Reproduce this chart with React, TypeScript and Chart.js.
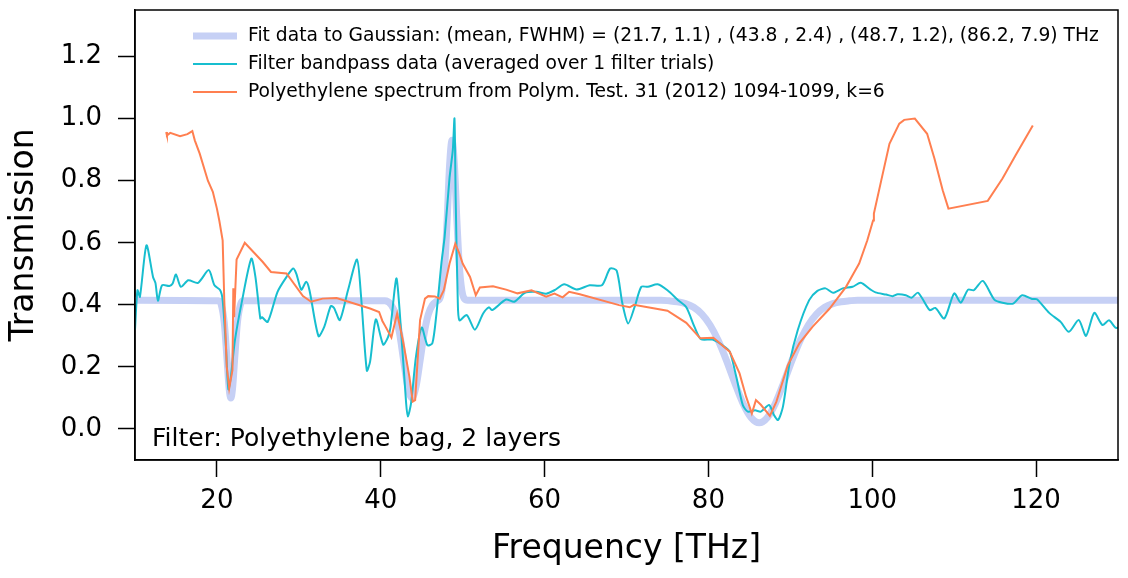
import { useEffect, useRef } from "react";
import { Chart, registerables } from "chart.js";

Chart.register(...registerables);

// fit to gaussians
const fitX = [10, 20.2, 20.5, 20.9, 21.2, 21.5, 21.7, 21.9, 22.2, 22.5, 22.9, 23.2, 40.5, 41.3, 41.8, 42.3, 42.8, 43.3, 43.8, 44.3, 44.8, 45.3, 45.8, 46.3, 46.8, 47.3, 47.8, 48.1, 48.4, 48.7, 49.0, 49.3, 49.6, 49.9, 50.2, 50.6, 74.2, 75.2, 76.2, 77.2, 78.2, 79.2, 80.2, 81.2, 82.2, 83.2, 84.2, 85.2, 86.2, 87.2, 88.2, 89.2, 90.2, 91.2, 92.2, 93.2, 94.2, 95.2, 96.2, 97.2, 98.2, 130];
const fitY = [0.415, 0.413, 0.403, 0.342, 0.238, 0.128, 0.1, 0.128, 0.238, 0.342, 0.403, 0.413, 0.413, 0.399, 0.369, 0.308, 0.22, 0.136, 0.1, 0.136, 0.22, 0.308, 0.369, 0.399, 0.411, 0.427, 0.523, 0.67, 0.848, 0.93, 0.848, 0.67, 0.523, 0.447, 0.42, 0.415, 0.415, 0.413, 0.41, 0.404, 0.392, 0.37, 0.335, 0.285, 0.221, 0.15, 0.084, 0.037, 0.02, 0.037, 0.084, 0.15, 0.221, 0.285, 0.335, 0.37, 0.392, 0.404, 0.41, 0.413, 0.415, 0.415];

// filter bandpass
const bandX = [10.0, 10.3, 10.6, 11.4, 12.2, 12.5, 12.8, 13.3, 14.2, 14.6, 15.0, 15.6, 16.5, 17.7, 19.0, 19.7, 20.4, 20.7, 21.1, 21.4, 21.7, 22.2, 23.0, 24.2, 24.7, 25.3, 25.5, 26.2, 27.4, 28.5, 29.3, 29.7, 30.3, 30.9, 31.3, 32.4, 33.1, 33.9, 34.3, 35.0, 36.0, 37.1, 37.6, 38.3, 38.7, 39.4, 40.3, 40.9, 41.2, 41.9, 42.3, 43.1, 43.3, 43.7, 44.3, 45.0, 45.7, 46.3, 46.8, 47.4, 47.8, 48.4, 48.8, 49.0, 49.15, 49.4, 49.6, 50.5, 51.5, 52.5, 53.2, 53.6, 55.3, 56.3, 57.6, 59.0, 60.2, 61.2, 62.4, 63.9, 65.5, 67.0, 68.0, 68.8, 69.5, 70.2, 71.0, 71.8, 72.6, 73.8, 75.0, 76.3, 77.3, 78.3, 79.1, 80.5, 81.7, 82.6, 83.4, 84.2, 84.8, 85.7, 86.4, 87.4, 88.0, 88.5, 89.1, 89.9, 90.9, 92.3, 93.3, 94.3, 95.2, 96.4, 97.6, 98.6, 99.8, 100.4, 101.7, 102.5, 103.1, 104.1, 104.8, 105.6, 107.0, 107.7, 108.8, 110.0, 110.8, 111.7, 112.4, 113.5, 114.9, 115.9, 117.2, 118.3, 119.5, 120.1, 121.6, 123.0, 124.0, 125.2, 126.1, 127.1, 128.1, 128.9, 129.7, 130.0];
const bandY = [0.32, 0.447, 0.426, 0.592, 0.49, 0.47, 0.413, 0.463, 0.461, 0.469, 0.498, 0.458, 0.479, 0.471, 0.512, 0.463, 0.447, 0.415, 0.265, 0.128, 0.168, 0.286, 0.404, 0.549, 0.49, 0.356, 0.36, 0.345, 0.442, 0.49, 0.517, 0.5, 0.449, 0.474, 0.447, 0.299, 0.329, 0.396, 0.39, 0.351, 0.447, 0.546, 0.426, 0.188, 0.217, 0.353, 0.272, 0.297, 0.33, 0.485, 0.383, 0.083, 0.04, 0.083, 0.233, 0.327, 0.27, 0.276, 0.372, 0.533, 0.62, 0.81, 0.9, 1.0, 0.737, 0.415, 0.35, 0.367, 0.32, 0.372, 0.392, 0.383, 0.417, 0.41, 0.439, 0.442, 0.436, 0.447, 0.466, 0.449, 0.463, 0.463, 0.517, 0.51, 0.404, 0.34, 0.394, 0.458, 0.458, 0.466, 0.447, 0.415, 0.392, 0.329, 0.289, 0.288, 0.27, 0.249, 0.168, 0.077, 0.056, 0.06, 0.056, 0.077, 0.045, 0.029, 0.072, 0.211, 0.318, 0.415, 0.445, 0.453, 0.439, 0.453, 0.458, 0.471, 0.449, 0.44, 0.433, 0.428, 0.434, 0.431, 0.423, 0.439, 0.383, 0.39, 0.356, 0.437, 0.407, 0.449, 0.447, 0.477, 0.417, 0.407, 0.404, 0.431, 0.419, 0.418, 0.374, 0.345, 0.313, 0.351, 0.3, 0.374, 0.335, 0.35, 0.326, 0.326];

// polyethylene reference spectrum
const polyX = [13.8, 13.9, 14.3, 15.5, 16.4, 17.0, 17.3, 17.9, 18.9, 19.5, 20.0, 20.3, 20.7, 20.9, 21.2, 21.5, 21.9, 22.0, 22.1, 22.4, 23.4, 25.6, 26.6, 28.5, 30.5, 31.5, 32.9, 34.6, 38.7, 39.8, 40.2, 40.6, 41.3, 42.0, 42.7, 43.5, 43.9, 44.2, 44.8, 45.4, 45.8, 46.6, 47.2, 47.7, 48.4, 49.1, 49.6, 50.0, 50.9, 51.6, 52.1, 53.7, 55.3, 56.7, 58.4, 60.2, 61.2, 62.2, 63.0, 64.3, 69.1, 70.4, 70.9, 75.0, 77.3, 79.0, 80.6, 82.6, 83.8, 84.6, 85.3, 85.8, 86.4, 87.5, 88.3, 89.7, 91.1, 92.7, 94.8, 96.8, 97.8, 98.4, 99.4, 100.1, 100.2, 101.1, 102.1, 103.3, 103.9, 105.2, 106.7, 107.6, 108.6, 109.3, 114.1, 115.9, 117.5, 119.6];
const polyY = [0.957, 0.946, 0.954, 0.943, 0.95, 0.96, 0.93, 0.887, 0.8, 0.764, 0.71, 0.67, 0.608, 0.415, 0.2, 0.131, 0.19, 0.453, 0.36, 0.546, 0.6, 0.538, 0.506, 0.501, 0.428, 0.41, 0.42, 0.422, 0.388, 0.377, 0.348, 0.329, 0.295, 0.372, 0.286, 0.168, 0.088, 0.093, 0.351, 0.42, 0.428, 0.427, 0.42, 0.447, 0.533, 0.597, 0.565, 0.533, 0.49, 0.431, 0.456, 0.46, 0.449, 0.437, 0.447, 0.426, 0.436, 0.424, 0.442, 0.434, 0.399, 0.392, 0.4, 0.381, 0.342, 0.292, 0.294, 0.249, 0.179, 0.104, 0.05, 0.093, 0.078, 0.042, 0.088, 0.206, 0.276, 0.329, 0.388, 0.458, 0.505, 0.533, 0.608, 0.672, 0.694, 0.801, 0.919, 0.984, 0.996, 1.0, 0.951, 0.871, 0.769, 0.71, 0.735, 0.807, 0.882, 0.978];

const xTicks = [20, 40, 60, 80, 100, 120];
const yTicks = [0.0, 0.2, 0.4, 0.6, 0.8, 1.0, 1.2];

const labels = [
  "Fit data to Gaussian: (mean, FWHM) = (21.7, 1.1) , (43.8 , 2.4) , (48.7, 1.2), (86.2, 7.9) THz",
  "Filter bandpass data (averaged over 1 filter trials)",
  "Polyethylene spectrum from Polym. Test. 31 (2012) 1094-1099, k=6",
];
const note = "Filter: Polyethylene bag, 2 layers";

const FONT = "'DejaVu Sans', sans-serif";

const pts = (xs: number[], ys: number[]) => xs.map((x, i) => ({ x, y: ys[i] }));

const noPad = (s: any) => {
  s.paddingTop = 0;
  s.paddingBottom = 0;
  s.paddingLeft = 0;
  s.paddingRight = 0;
};

// frame, legend and the filter note
const extras = {
  id: "extras",
  afterDraw(chart: any) {
    const { ctx, chartArea } = chart;
    const { left, top, right, bottom } = chartArea;
    ctx.save();
    ctx.strokeStyle = "#000";
    ctx.lineWidth = 1.5;
    ctx.strokeRect(left, top, right - left, bottom - top);

    ctx.font = `18.7px ${FONT}`;
    ctx.textBaseline = "middle";
    ctx.fillStyle = "#000";
    chart.data.datasets.forEach((ds: any, i: number) => {
      const y = top + 26 + i * 28;
      ctx.beginPath();
      ctx.strokeStyle = ds.borderColor;
      ctx.lineWidth = ds.borderWidth;
      ctx.moveTo(left + 58, y);
      ctx.lineTo(left + 102, y);
      ctx.stroke();
      ctx.fillText(ds.label, left + 113, y);
    });

    ctx.font = `25px ${FONT}`;
    ctx.fillText(note, left + 17, bottom - 21);
    ctx.restore();
  },
};

const App = () => {
  const chartRef = useRef<HTMLCanvasElement | null>(null);

  useEffect(() => {
    if (!chartRef.current) return;
    Chart.defaults.font.family = FONT;
    Chart.defaults.color = "#000";

    const myChart = new Chart(chartRef.current, {
      type: "line",
      data: {
        datasets: [
          {
            label: labels[0],
            data: pts(fitX, fitY),
            borderColor: "#c6d0f5",
            borderWidth: 7,
            pointRadius: 0,
            cubicInterpolationMode: "monotone",
            order: 3,
          },
          {
            label: labels[1],
            data: pts(bandX, bandY),
            borderColor: "#17becf",
            borderWidth: 2,
            pointRadius: 0,
            tension: 0.25,
            order: 2,
          },
          {
            label: labels[2],
            data: pts(polyX, polyY),
            borderColor: "#ff7f50",
            borderWidth: 2,
            pointRadius: 0,
            order: 1,
          },
        ],
      },
      plugins: [extras],
      options: {
        animation: false,
        responsive: true,
        maintainAspectRatio: false,
        layout: { autoPadding: false, padding: { top: 10, right: 10, left: 0, bottom: 0 } },
        plugins: {
          legend: { display: false },
          tooltip: { enabled: false },
        },
        scales: {
          x: {
            type: "linear",
            min: 10,
            max: 130,
            afterBuildTicks: (s: any) => {
              s.ticks = xTicks.map((v) => ({ value: v }));
            },
            afterFit: (s: any) => {
              s.height = 118;
              noPad(s);
            },
            ticks: { font: { size: 26 }, padding: 9, maxRotation: 0 },
            grid: { drawOnChartArea: false, tickLength: 17, tickWidth: 1.5, tickColor: "#000" },
            border: { display: true, color: "#000", width: 1.5 },
            title: {
              display: true,
              text: "Frequency [THz]",
              font: { size: 33 },
              padding: { top: 0, bottom: 9 },
            },
          },
          y: {
            type: "linear",
            min: -0.1,
            max: 1.35,
            afterBuildTicks: (s: any) => {
              s.ticks = yTicks.map((v) => ({ value: v }));
            },
            afterFit: (s: any) => {
              s.width = 135;
              noPad(s);
            },
            ticks: { font: { size: 26 }, padding: 16, callback: (v: any) => Number(v).toFixed(1) },
            grid: { drawOnChartArea: false, tickLength: 17, tickWidth: 1.5, tickColor: "#000" },
            border: { display: true, color: "#000", width: 1.5 },
            title: {
              display: true,
              text: "Transmission",
              font: { size: 33 },
              padding: { top: 5, bottom: 0 },
            },
          },
        },
      },
    } as any);

    return () => {
      myChart.destroy();
    };
  }, []);

  return (
    <div style={{ position: "absolute", left: 0, top: 0, width: 1128, height: 578, background: "#fff" }}>
      <canvas ref={chartRef} />
    </div>
  );
};

export default App;
